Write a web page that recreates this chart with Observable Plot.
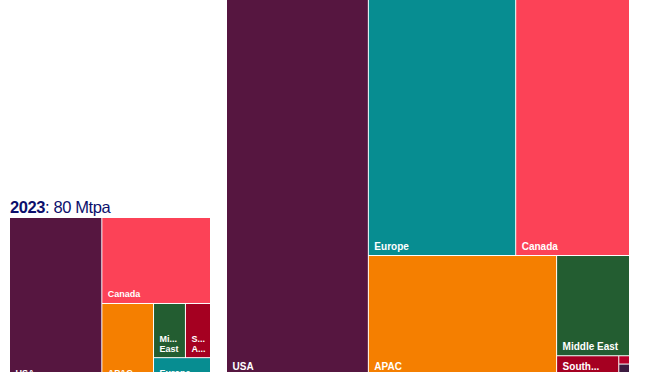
<!DOCTYPE html>
<html>
<head>
<meta charset="utf-8">
<script src="https://cdn.jsdelivr.net/npm/d3@7"></script>
<script src="https://cdn.jsdelivr.net/npm/@observablehq/plot@0.6"></script>
<style>
  html, body { margin: 0; padding: 0; background: #fff; overflow: hidden; }
  #wrap { position: relative; width: 657px; height: 372px; overflow: hidden; }
  #title { position: absolute; left: 10px; top: 199px; font: 16.5px/16px "Liberation Sans", Arial, sans-serif; letter-spacing: -0.4px; color: #0c0f6c; white-space: nowrap; }
  #title b { font-weight: bold; }
</style>
</head>
<body>
<div id="wrap">
  <div id="chart"></div>
  <div id="title"></div>
</div>
<script>
// ---- data ----
const regions = ["USA", "Canada", "APAC", "Middle East", "South America", "Europe", "Africa", "Other"];
const mtpa2023 = [36.8, 22.7, 9.8, 4.2, 3.3, 3.3, 0, 0];
const mtpaLater = [105.8, 60.4, 40.5, 13.1, 2.2, 78.2, 0.16, 0.22];
const regionColors = ["#561640", "#fc4257", "#f57f00", "#235d31", "#a50021", "#078d91", "#b8002a", "#3d1a3f"];
const yearLabel = "2023";
const totalLabel = ": 80 Mtpa";

// ---- layout specs (nesting of dice / slice splits) ----
const specSmall = ["dice", "USA", ["slice", "Canada", ["dice", "APAC", ["slice", ["dice", "Middle East", "South America"], "Europe"]]]];
const specLarge = ["dice", "USA", ["slice", ["dice", "Europe", "Canada"], ["dice", "APAC", ["slice", "Middle East", ["dice", "South America", ["slice", "Africa", "Other"]]]]]];

function buildTree(spec, values) {
  if (typeof spec === "string") return {name: spec, value: values[regions.indexOf(spec)]};
  const [tile, ...kids] = spec;
  return {tile, children: kids.map(k => buildTree(k, values))};
}

const cv = document.createElement("canvas").getContext("2d");
function measure(s, fs) { cv.font = `bold ${fs}px "Liberation Sans", Arial, sans-serif`; return cv.measureText(s).width; }

function fitLabel(name, w, h, fs) {
  const avail = w - 10, lh = fs * 1.1;
  const maxLines = Math.floor((h - 4) / lh);
  if (maxLines < 1) return "";
  if (measure(name, fs) <= avail) return name;
  const trunc = (word, force) => {
    if (!force && measure(word, fs) <= avail) return word;
    for (let k = force ? word.length : word.length - 1; k >= 1; k--) {
      const s = word.slice(0, k) + "...";
      if (measure(s, fs) <= avail) return s;
    }
    return null;
  };
  const words = name.split(" ");
  let lines = words.map(wd => trunc(wd, false));
  if (lines.some(l => l === null)) return "";
  if (lines.length > maxLines) {
    lines = lines.slice(0, maxLines);
    const last = lines[maxLines - 1];
    if (!last.endsWith("...")) {
      const t = trunc(words[maxLines - 1], true);
      if (t === null) return "";
      lines[maxLines - 1] = t;
    }
  }
  return lines.join("\n");
}

function layout(spec, values, x0, y0, w, h, fs) {
  const root = d3.hierarchy(buildTree(spec, values)).sum(d => d.value || 0);
  d3.treemap().size([w, h]).paddingInner(1)
    .tile((node, a, b, c, e) => (node.data.tile === "dice" ? d3.treemapDice : d3.treemapSlice)(node, a, b, c, e))(root);
  return root.leaves().filter(l => l.value > 0).map(l => ({
    name: l.data.name, value: l.value, fs,
    x1: x0 + l.x0, x2: x0 + l.x1, y1: y0 + l.y0, y2: y0 + l.y1,
    label: fitLabel(l.data.name, l.x1 - l.x0, l.y1 - l.y0, fs)
  }));
}

const small = layout(specSmall, mtpa2023, 10, 218, 200, 163, 9);
const large = layout(specLarge, mtpaLater, 227, -40, 402, 415, 10);
const cells = small.concat(large);

const textOpts = {
  x: d => d.x1 + 5, y: d => d.y2 - 6, text: "label",
  textAnchor: "start", lineAnchor: "bottom", lineHeight: 1.1,
  fill: "white", fontWeight: "bold", clip: true
};

const chart = Plot.plot({
  width: 657, height: 372, margin: 0,
  style: {fontFamily: '"Liberation Sans", Arial, sans-serif', background: "white", overflow: "hidden"},
  x: {domain: [0, 657], range: [0, 657], axis: null},
  y: {domain: [0, 372], range: [0, 372], axis: null},
  color: {domain: regions, range: regionColors},
  marks: [
    Plot.rect(cells, {x1: "x1", x2: "x2", y1: "y1", y2: "y2", fill: "name", clip: true}),
    Plot.text(small, {...textOpts, fontSize: 9}),
    Plot.text(large, {...textOpts, fontSize: 10})
  ]
});
document.getElementById("chart").appendChild(chart);
document.getElementById("title").innerHTML = `<b>${yearLabel}</b>${totalLabel}`;
</script>
</body>
</html>
